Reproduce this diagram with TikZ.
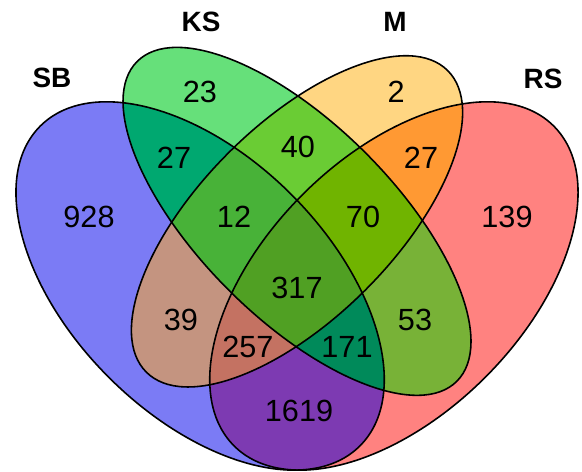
\documentclass[tikz,border=0pt]{standalone}
\usepackage{fontspec}
\setmainfont{Liberation Sans}
\definecolor{cSB}{HTML}{7B7BF5}
\definecolor{cKS}{HTML}{66E07A}
\definecolor{cM}{HTML}{FFD682}
\definecolor{cRS}{HTML}{FF8280}
\definecolor{cSBKS}{HTML}{00A870}
\definecolor{cKSM}{HTML}{6ACC34}
\definecolor{cMRS}{HTML}{FF9933}
\definecolor{cSBM}{HTML}{C49480}
\definecolor{cKSRS}{HTML}{78B237}
\definecolor{cSBRS}{HTML}{7D3AB2}
\definecolor{cSBKSM}{HTML}{48B238}
\definecolor{cKSMRS}{HTML}{70B400}
\definecolor{cSBMRS}{HTML}{C47262}
\definecolor{cSBKSRS}{HTML}{008A5A}
\definecolor{cALL}{HTML}{50A023}
\newcommand\eSB{[rotate around={135:(0.35,0.47)}] (0.35,0.47) ellipse [x radius=0.35,y radius=0.2]}
\newcommand\eKS{[rotate around={135:(0.5,0.57)}] (0.5,0.57) ellipse [x radius=0.35,y radius=0.15]}
\newcommand\eMM{[rotate around={45:(0.5,0.57)}] (0.5,0.57) ellipse [x radius=0.33,y radius=0.15]}
\newcommand\eRS{[rotate around={45:(0.65,0.47)}] (0.65,0.47) ellipse [x radius=0.35,y radius=0.2]}
\newcommand\cSB{\expandafter\clip\eSB;}
\newcommand\cKS{\expandafter\clip\eKS;}
\newcommand\cMM{\expandafter\clip\eMM;}
\newcommand\cRS{\expandafter\clip\eRS;}
\newcommand\regfill[2]{\begin{scope}#2\fill[#1] (0,0) rectangle (1,1);\end{scope}}
\tikzset{
  num/.style={font=\fontsize{13.5pt}{16pt}\selectfont, inner sep=0pt},
  setlabel/.style={font=\fontsize{12.3pt}{15pt}\selectfont\bfseries, inner sep=0pt},
  outline/.style={draw=black, line width=0.7pt}
}
\begin{document}
\begin{tikzpicture}[x=10cm,y=10cm]
\useasboundingbox (0.0402,0.1821) rectangle (0.9412,0.9127);
% single sets
\regfill{cSB}{\cSB}
\regfill{cKS}{\cKS}
\regfill{cM}{\cMM}
\regfill{cRS}{\cRS}
% pairs
\regfill{cSBKS}{\cSB\cKS}
\regfill{cKSM}{\cKS\cMM}
\regfill{cMRS}{\cMM\cRS}
\regfill{cSBM}{\cSB\cMM}
\regfill{cKSRS}{\cKS\cRS}
\regfill{cSBRS}{\cSB\cRS}
% triples
\regfill{cSBKSM}{\cSB\cKS\cMM}
\regfill{cKSMRS}{\cKS\cMM\cRS}
\regfill{cSBMRS}{\cSB\cMM\cRS}
\regfill{cSBKSRS}{\cSB\cKS\cRS}
% all four
\regfill{cALL}{\cSB\cKS\cMM\cRS}
% outlines
\begin{scope}[outline]
\expandafter\draw\eSB;
\expandafter\draw\eKS;
\expandafter\draw\eMM;
\expandafter\draw\eRS;
\end{scope}
% set labels
\node[setlabel] (lSB) at (0.1207,0.7920) {SB};
\node[setlabel] (lKS) at (0.3514,0.8787) {KS};
\node[setlabel] (lM)  at (0.6517,0.8787) {M};
\node[setlabel] (lRS) at (0.8808,0.7904) {RS};
% counts
\node[num] (n23)   at (0.3498,0.7703) {23};
\node[num] (n27a)  at (0.3096,0.6681) {27};
\node[num] (n928)  at (0.1780,0.5768) {928};
\node[num] (n12)   at (0.4025,0.5768) {12};
\node[num] (n40)   at (0.5015,0.6852) {40};
\node[num] (n2)    at (0.6533,0.7703) {2};
\node[num] (n27b)  at (0.6920,0.6681) {27};
\node[num] (n70)   at (0.6022,0.5768) {70};
\node[num] (n139)  at (0.8251,0.5768) {139};
\node[num] (n317)  at (0.5000,0.4669) {317};
\node[num] (n39)   at (0.3204,0.4174) {39};
\node[num] (n257)  at (0.4241,0.3756) {257};
\node[num] (n171)  at (0.5774,0.3756) {171};
\node[num] (n53)   at (0.6827,0.4174) {53};
\node[num] (n1619) at (0.5031,0.2765) {1619};
\end{tikzpicture}
\end{document}
